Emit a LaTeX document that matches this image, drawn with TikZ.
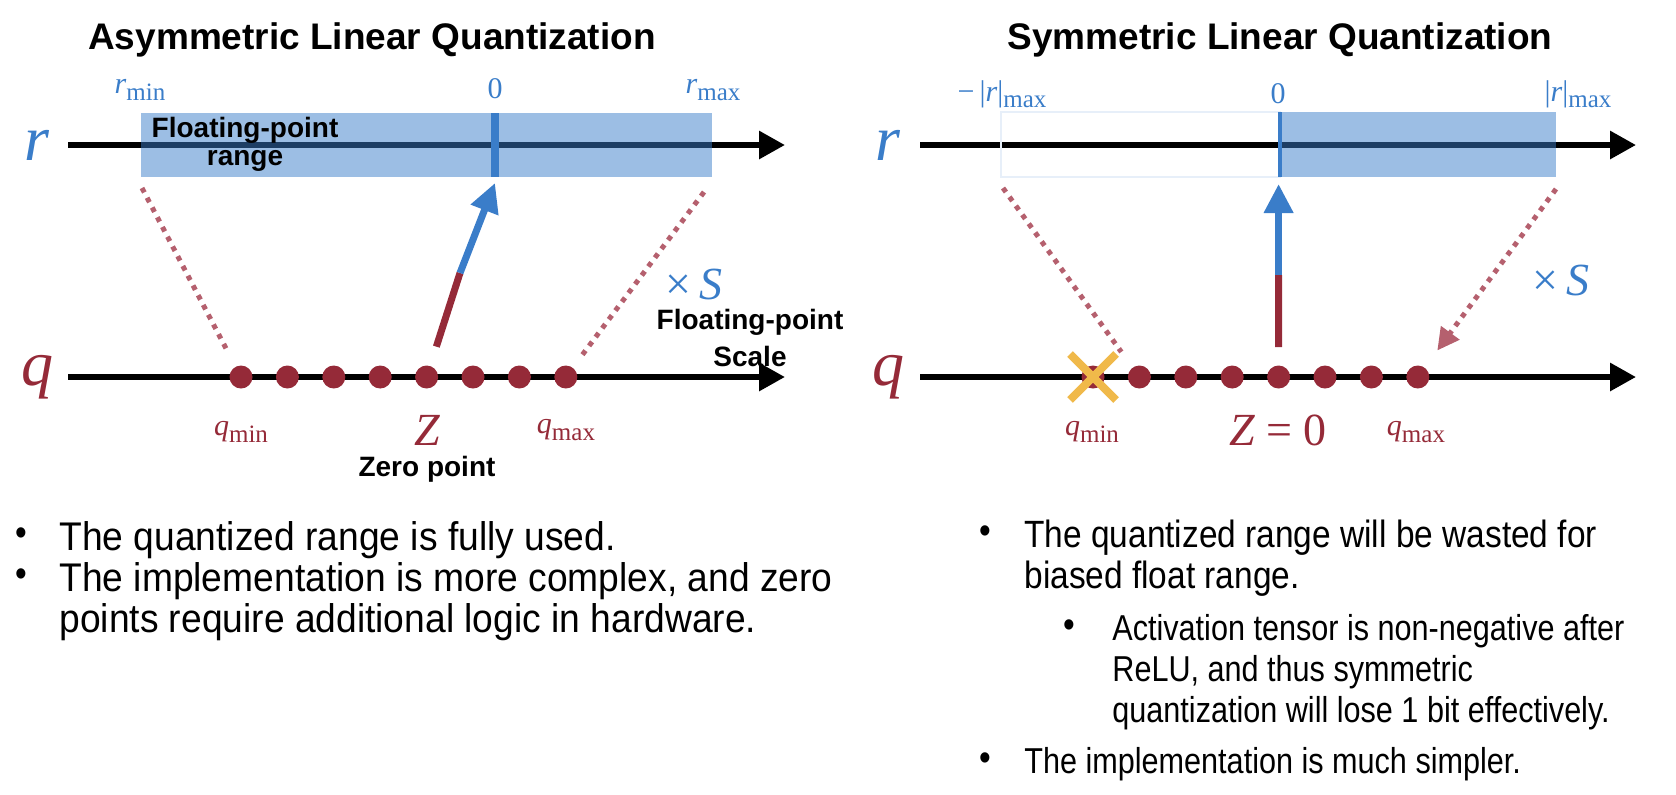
\documentclass[tikz,border=0pt]{standalone}
\usepackage{fontspec}
\setmainfont{Liberation Sans}
\newfontfamily\serifmath{Liberation Serif}
\newfontfamily\leftfont[FakeStretch=0.93]{Liberation Sans}
\newfontfamily\bulletfont[FakeStretch=0.88]{Liberation Sans}
\newfontfamily\narrowfont[FakeStretch=0.85]{Liberation Sans}
\usetikzlibrary{arrows.meta, shapes.misc}
\definecolor{rblue}{RGB}{58,125,201}
\definecolor{qred}{RGB}{149,42,56}
\definecolor{dotpink}{RGB}{181,96,110}
\definecolor{xyellow}{RGB}{240,185,74}
\newcommand{\lowsub}[1]{\raisebox{-0.45ex}{\fontsize{12.5}{12.5}\selectfont #1}}
\tikzset{
    axisline/.style={line width=3pt, -{Triangle[length=13pt, width=13.5pt]}},
    rangebox/.style={fill=rblue, opacity=0.5},
    zeroline/.style={draw=rblue, line width=4pt},
    qdot/.style={circle, fill=qred, inner sep=0pt, minimum size=11.5pt},
    maplink/.style={draw=dotpink, line width=2.5pt, dash pattern=on 2.5pt off 3pt},
    redseg/.style={draw=qred, line width=3.5pt},
    bluearrow/.style={draw=rblue, line width=3.5pt, -{Triangle[length=14.5pt, width=14pt]}},
    titletext/.style={font=\fontsize{18.5}{22}\selectfont\bfseries},
    axisname/.style={font=\serifmath\itshape\fontsize{32}{32}\selectfont},
    ticklabel/.style={font=\serifmath\fontsize{15}{15}\selectfont},
    biglabel/.style={font=\serifmath\fontsize{23}{23}\selectfont},
    notetext/.style={font=\fontsize{14}{14}\selectfont\bfseries, align=center, inner sep=0pt},
    lefttext/.style={font=\leftfont\fontsize{20}{20.5}\selectfont, align=left, anchor=north west, inner sep=0pt},
    itemtext/.style={font=\bulletfont\fontsize{19}{20.5}\selectfont, align=left, anchor=north west, inner sep=0pt},
    subtext/.style={font=\narrowfont\fontsize{18}{20.5}\selectfont, align=left, anchor=north west, inner sep=0pt},
    itemdot/.style={font=\bulletfont\fontsize{19}{20.5}\selectfont, inner sep=0pt}
}
\begin{document}
\begin{tikzpicture}[x=0.5pt, y=-0.5pt]
    \useasboundingbox (0,0) rectangle (1676,794);

    % asymmetric
    \node[titletext] (ltitle) at (372,40) {Asymmetric Linear Quantization};
    \node[axisname, text=rblue] (lr) at (37,145) {r};
    \node[axisname, text=qred] (lq) at (37,377) {q};
    \coordinate (lrs) at (68,145);
    \coordinate (lre) at (785,145);
    \coordinate (lqs) at (68,377);
    \coordinate (lqe) at (785,377);
    \draw[axisline] (lrs) -- (lre);
    \fill[rangebox] (141,113) rectangle (712,177);
    \draw[zeroline] (495,113) -- (495,177);
    \draw[axisline] (lqs) -- (lqe);
    \foreach \i in {1,...,8}
        \node[qdot] (la\i) at ({241+46.4*(\i-1)},377) {};

    \node[ticklabel, text=rblue] (lrmin) at (140,90) {\textit{r}\lowsub{min}};
    \node[ticklabel, text=rblue] (lzero) at (495,89) {0};
    \node[ticklabel, text=rblue] (lrmax) at (713,90) {\textit{r}\lowsub{max}};
    \node[notetext] (lrange) at (245,144) {Floating-point\\range};

    \coordinate (lbl) at (142,188);
    \coordinate (lbr) at (704,192);
    \draw[maplink, shorten >=10pt] (lbl) -- (la1);
    \draw[maplink, shorten >=8pt] (lbr) -- (la8);

    \coordinate (lzmid) at (460,273);
    \coordinate (lztip) at (495,183);
    \draw[redseg, shorten <=10pt] (la5) -- (lzmid);
    \draw[bluearrow] (lzmid) -- (lztip);

    \node[biglabel, text=rblue] (lscale) at (694,284) {×\,\textit{S}};
    \node[notetext, font=\fontsize{14}{18.5}\selectfont\bfseries] (lscalenote) at (750,338) {Floating-point\\Scale};
    \node[ticklabel, text=qred] (lqmin) at (241,432) {\textit{q}\lowsub{min}};
    \node[biglabel, text=qred] (lz) at (427,430) {\textit{Z}};
    \node[ticklabel, text=qred] (lqmax) at (566,430) {\textit{q}\lowsub{max}};
    \node[notetext] (lzeronote) at (427,469) {Zero point};

    \node[itemdot] (lb1) at (21,537) {•};
    \node[lefttext] (li1) at (59,521) {The quantized range is fully used.};
    \node[itemdot] (lb2) at (21,578) {•};
    \node[lefttext] (li2) at (59,562) {The implementation is more complex, and zero\\points require additional logic in hardware.};

    % symmetric
    \node[titletext] (rtitle) at (1280,40) {Symmetric Linear Quantization};
    \node[axisname, text=rblue] (rr) at (888,145) {r};
    \node[axisname, text=qred] (rq) at (888,377) {q};
    \coordinate (rrs) at (920,145);
    \coordinate (rre) at (1636,145);
    \coordinate (rqs) at (920,377);
    \coordinate (rqe) at (1636,377);
    \draw[axisline] (rrs) -- (rre);
    \draw[rblue!12, line width=0.6pt] (1001,112) rectangle (1280,177);
    \fill[rangebox] (1280,112) rectangle (1556,177);
    \draw[zeroline, line width=2pt] (1280,112) -- (1280,177);
    \draw[axisline] (rqs) -- (rqe);
    \foreach \i in {0,...,7}
        \node[qdot] (ra\i) at ({1093+46.4*\i},377) {};
    \node[cross out, draw=xyellow, line width=4pt, inner sep=0pt, minimum size=19pt] (rcut) at (ra0) {};

    \node[ticklabel, text=rblue] (rrmin) at (1002,94) {−\,|\textit{r}|\lowsub{max}};
    \node[ticklabel, text=rblue] (rzero) at (1278,94) {0};
    \node[ticklabel, text=rblue] (rrmax) at (1578,94) {|\textit{r}|\lowsub{max}};

    \coordinate (rbl) at (1003,188);
    \coordinate (rbr) at (1556,189);
    \draw[maplink, shorten >=9.5pt] (rbl) -- (ra1);
    \draw[maplink, shorten >=10.5pt, -{Triangle[length=11pt, width=11pt, fill=dotpink]}] (rbr) -- (ra7);

    \coordinate (rzmid) at (1278.6,275);
    \coordinate (rztip) at (1278.6,184);
    \draw[redseg, shorten <=9pt] (ra4) -- (rzmid);
    \draw[bluearrow] (rzmid) -- (rztip);

    \node[biglabel, text=rblue] (rscale) at (1561,280) {×\,\textit{S}};
    \node[ticklabel, text=qred] (rqmin) at (1092,432) {\textit{q}\lowsub{min}};
    \node[biglabel, text=qred] (rz) at (1278,430) {\textit{Z} = 0};
    \node[ticklabel, text=qred] (rqmax) at (1416,432) {\textit{q}\lowsub{max}};

    \node[itemdot] (rb1) at (985,535) {•};
    \node[itemtext] (ri1) at (1024,520) {The quantized range will be wasted for\\biased float range.};
    \node[itemdot] (rb2) at (1069,629) {•};
    \node[subtext] (ri2) at (1112,614) {Activation tensor is non-negative after\\ReLU, and thus symmetric\\quantization will lose 1 bit effectively.};
    \node[itemdot] (rb3) at (985,762) {•};
    \node[subtext] (ri3) at (1024,747) {The implementation is much simpler.};
\end{tikzpicture}
\end{document}
